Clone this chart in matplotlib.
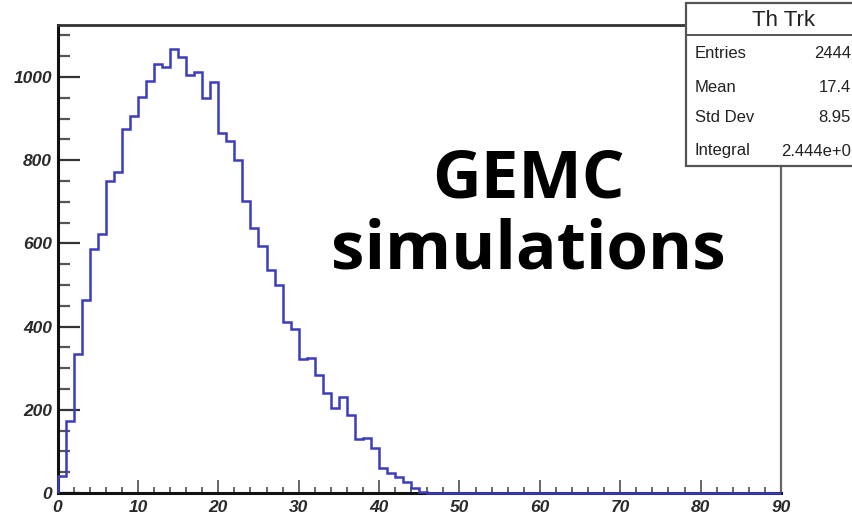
import numpy as np
import matplotlib
matplotlib.use("Agg")
import matplotlib.pyplot as plt
from matplotlib.patches import Rectangle
from matplotlib.ticker import MultipleLocator

# counts per 1-unit bin, starting at 0 (bins beyond 46 are empty)
counts = [42, 174, 335, 463, 587, 622, 750, 772, 874, 906,
          952, 990, 1031, 1023, 1068, 1047, 1006, 1012, 949, 989,
          866, 847, 800, 703, 637, 594, 535, 501, 410, 394,
          321, 324, 283, 240, 205, 231, 188, 130, 133, 109,
          60, 47, 38, 26, 12, 2]
n_bins = 90
x_lo, x_hi = 0, 90
y_hi = 1125

stat_names = ["Entries", "Mean", "Std Dev", "Integral"]
stat_values = ["2444", "17.4", "8.95", "2.444e+0"]
hist_name = "Th Trk"

W, H = 852, 515
fig = plt.figure(figsize=(W / 100, H / 100), dpi=100)
fig.patch.set_facecolor("white")


def fx(px):
    return px / W


def fy(py):
    return 1 - py / H


ax = fig.add_axes([fx(57.5), fy(493), fx(781) - fx(57.5), fy(25) - fy(493)])

vals = np.zeros(n_bins)
vals[:len(counts)] = counts
edges = np.linspace(x_lo, x_hi, n_bins + 1)
ax.stairs(vals, edges, baseline=0, color="#3c3cbc", lw=1.8, zorder=5, clip_on=False)

ax.set_xlim(x_lo, x_hi)
ax.set_ylim(0, y_hi)

ax.xaxis.set_major_locator(MultipleLocator(10))
ax.xaxis.set_minor_locator(MultipleLocator(2))
ax.yaxis.set_major_locator(MultipleLocator(200))
ax.yaxis.set_minor_locator(MultipleLocator(50))

ax.tick_params(axis="y", which="major", direction="in", length=15.5, width=1.6, color="#333333", pad=4)
ax.tick_params(axis="y", which="minor", direction="in", length=8.5, width=1.6, color="#555555")
ax.tick_params(axis="x", which="major", direction="in", length=9.5, width=1.4, color="#666666", pad=5)
ax.tick_params(axis="x", which="minor", direction="in", length=4.5, width=1.4, color="#666666")

for lab in ax.get_xticklabels() + ax.get_yticklabels():
    lab.set_fontfamily("Liberation Sans")
    lab.set_fontstyle("italic")
    lab.set_fontweight("bold")
    lab.set_fontsize(12.5)
    lab.set_color("#2a2a2a")

ax.spines["left"].set_linewidth(2.2)
ax.spines["left"].set_color("#111111")
ax.spines["bottom"].set_linewidth(2.2)
ax.spines["bottom"].set_color("#111111")
ax.spines["top"].set_linewidth(2.0)
ax.spines["top"].set_color("#333333")
ax.spines["right"].set_linewidth(1.6)
ax.spines["right"].set_color("#666666")

# big overlay label
fig.text(fx(528), fy(180), "GEMC", fontsize=48.5, fontweight="bold", family="Open Sans",
         ha="center", va="center", color="black")
fig.text(fx(528), fy(251), "simulations", fontsize=48.5, fontweight="bold", family="Open Sans",
         ha="center", va="center", color="black")

# statistics box
box = Rectangle((fx(686), fy(166)), fx(900) - fx(686), fy(3) - fy(166),
                transform=fig.transFigure, facecolor="white", edgecolor="#555555",
                lw=1.6, zorder=10)
fig.patches.append(box)
fig.add_artist(plt.Line2D([fx(686), fx(900)], [fy(35), fy(35)], transform=fig.transFigure,
                          color="#555555", lw=1.4, zorder=11))
fig.text(fx(783), fy(20), hist_name, fontsize=16, family="Liberation Sans",
         ha="center", va="center", color="#222222", zorder=12)

row_y = [53, 87, 118, 151]
for name, val, yy in zip(stat_names, stat_values, row_y):
    fig.text(fx(695), fy(yy), name, fontsize=12, family="Liberation Sans",
             ha="left", va="center", color="#222222", zorder=12)
    fig.text(fx(851), fy(yy), val, fontsize=12, family="Liberation Sans",
             ha="right", va="center", color="#222222", zorder=12)

fig.savefig("out.png", dpi=100)
